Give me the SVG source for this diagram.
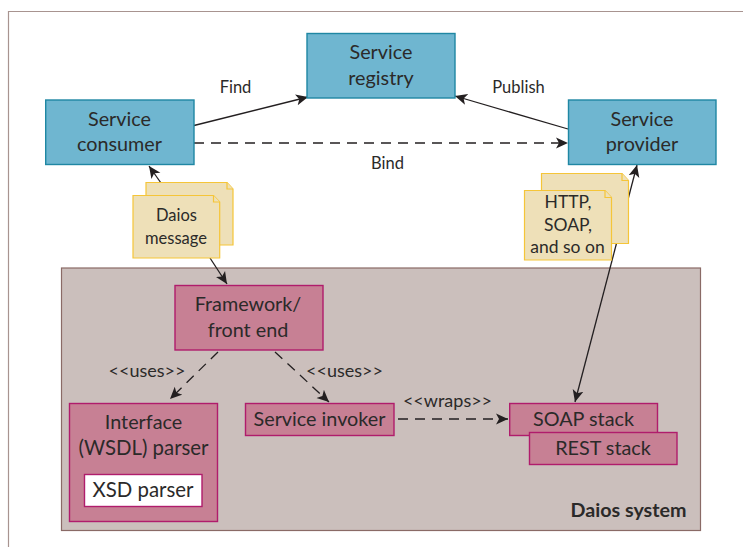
<svg xmlns="http://www.w3.org/2000/svg" width="743" height="547" viewBox="0 0 743 547">
<style>
text{font-family:"Lato","Liberation Sans",sans-serif;fill:#2b2a29;text-anchor:middle}
.n{font-size:19.800px}
.w{font-size:20.400px}
.l{font-size:16.500px}
.h{font-size:17.500px}
.u{font-size:18px}
.blue{fill:#6fb6d0;stroke:#1f87a3;stroke-width:1.4}
.red{fill:#c78094;stroke:#b01c6c;stroke-width:1.4}
.doc{fill:#eee0b8;stroke:#f5c538;stroke-width:1.2}
.c{fill:none;stroke:#231f20;stroke-width:1.3}
.d{stroke-dasharray:10 7}
</style>
<defs>
<marker id="a" markerUnits="userSpaceOnUse" markerWidth="14" markerHeight="12" refX="12" refY="5.500" orient="auto-start-reverse" viewBox="0 0 14 11"><path d="M0 0L12 5.500L0 11L3 5.500Z" fill="#231f20"/></marker>
</defs>
<rect width="743" height="547" fill="#fff"/>
<path d="M8.500 547V11.500H743" fill="none" stroke="#a89490" stroke-width="1.200"/>
<g id="system"><rect x="61.500" y="268" width="639" height="262.500" fill="#cbbfbc" stroke="#8a6a66" stroke-width="1.200"/><text x="628.500" y="517" style="font-size:19.700px;font-weight:700">Daios system</text></g>
<g id="connectors">
<path class="c" d="M194 125.500L308 97" marker-end="url(#a)"/>
<path class="c" d="M568 129L455 96" marker-end="url(#a)"/>
<path class="c d" d="M194 143H568" marker-end="url(#a)"/>
<path class="c" d="M161 183L149 166" marker-end="url(#a)"/>
<path class="c" d="M210 258L227 284" marker-end="url(#a)"/>
<path class="c" d="M575 402L637 165" marker-start="url(#a)" marker-end="url(#a)"/>
<path class="c d" d="M218 352L170 399" marker-end="url(#a)"/>
<path class="c d" d="M275 352L329 402" marker-end="url(#a)"/>
<path class="c d" d="M398 419H508" marker-end="url(#a)"/>
</g>
<g id="registry"><rect class="blue" x="307" y="33.500" width="148" height="64.500"/><text class="n" x="381" y="59">Service</text><text class="n" x="381" y="85">registry</text></g>
<g id="consumer"><rect class="blue" x="45.700" y="100" width="148.300" height="64.500"/><text class="n" x="119.500" y="125.500">Service</text><text class="n" x="119.500" y="150.500">consumer</text></g>
<g id="provider"><rect class="blue" x="568.500" y="100" width="147.500" height="64.500"/><text class="n" x="642" y="125.500">Service</text><text class="n" x="642" y="150.500">provider</text></g>
<g id="daios-message">
<path class="doc" d="M146 182.500H227L233 189V245H146Z"/><path class="doc" d="M227 182.500V189H233"/>
<path class="doc" d="M133 195.500H213.500L219.700 202V258H133Z"/><path class="doc" d="M213.500 195.500V202H219.700"/>
<text class="l" x="176.500" y="221">Daios</text><text class="l" x="176" y="244">message</text>
</g>
<g id="http-soap">
<path class="doc" d="M541.500 173.500H622L628.500 180.500V243.500H541.500Z"/><path class="doc" d="M622 173.500V180.500H628.500"/>
<path class="doc" d="M524.500 190.500H605L611.500 197.500V260H524.500Z"/><path class="doc" d="M605 190.500V197.500H611.500"/>
<text class="h" x="568" y="208">HTTP,</text><text class="h" x="568" y="231">SOAP,</text><text class="h" x="567.500" y="253">and so on</text>
</g>
<g id="framework"><rect class="red" x="175" y="285.500" width="148" height="64.500"/><text class="n" x="248" y="311">Framework/</text><text class="n" x="248" y="337">front end</text></g>
<g id="interface"><rect class="red" x="69.500" y="403.500" width="148" height="118"/><text class="n" x="143.500" y="429">Interface</text><text class="w" x="143.500" y="455">(WSDL) parser</text>
<g id="xsd"><rect x="84.500" y="474.500" width="117.500" height="32" fill="#fff" stroke="#b01c6c" stroke-width="1.400"/><text class="w" x="143" y="497">XSD parser</text></g></g>
<g id="invoker"><rect class="red" x="245.500" y="403.500" width="148.500" height="32"/><text class="n" x="319.500" y="426">Service invoker</text></g>
<g id="soap"><rect class="red" x="509.700" y="403.500" width="147.800" height="32"/><text class="n" x="583.500" y="425.500">SOAP stack</text></g>
<g id="rest"><rect class="red" x="529.500" y="432.500" width="147.500" height="32"/><text class="n" x="603" y="454.500">REST stack</text></g>
<text class="l" x="387.500" y="169">Bind</text>
<text class="l" x="235.500" y="93">Find</text>
<text class="l" x="518.500" y="93">Publish</text>
<text class="u" x="147" y="377">&lt;&lt;uses&gt;&gt;</text>
<text class="u" x="344.500" y="377">&lt;&lt;uses&gt;&gt;</text>
<text class="u" x="447.500" y="407">&lt;&lt;wraps&gt;&gt;</text>
</svg>
